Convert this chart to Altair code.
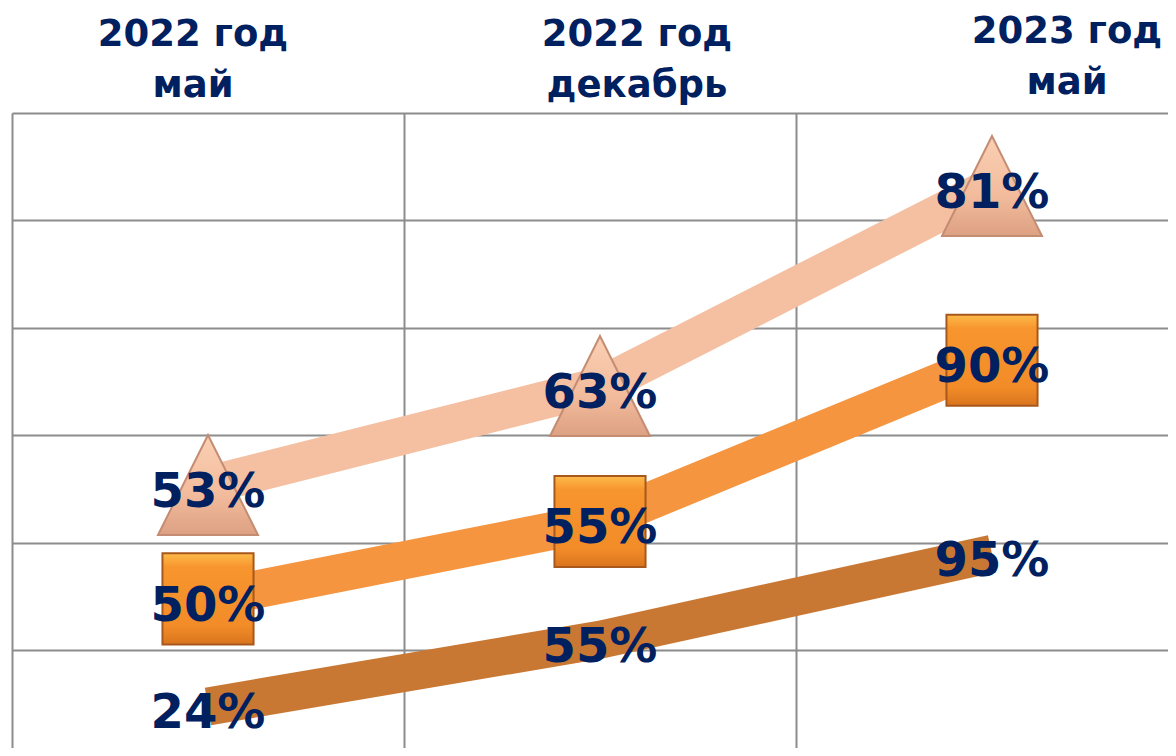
import altair as alt
import pandas as pd

# ---- data ----
periods = ["2022 год май", "2022 год декабрь", "2023 год май"]
header_line1 = ["2022 год", "2022 год", "2023 год"]
header_line2 = ["май", "декабрь", "май"]
series = ["Нижняя", "Средняя", "Верхняя"]          # stacking order bottom -> top
values_bottom = [24, 55, 95]
values_middle = [50, 55, 90]
values_top = [53, 63, 81]
series_colors = ["#C97834", "#F59540", "#F5C0A2"]

rows = []
for s_i, (name, vals) in enumerate(zip(series, [values_bottom, values_middle, values_top])):
    for p_i, (p, v) in enumerate(zip(periods, vals)):
        rows.append({"period": p, "idx": p_i, "series": name, "order": s_i,
                     "value": v, "label": f"{v}%"})
df = pd.DataFrame(rows)
hdr = pd.DataFrame({"idx": [0, 1, 2], "l1": header_line1, "l2": header_line2})

NAVY = "#002060"
GRID = "#8C8C8C"

x_enc = alt.X("idx:Q",
              scale=alt.Scale(domain=[-0.5, 2.449], nice=False, zero=False),
              axis=alt.Axis(values=[-0.5, 0.5, 1.5], labels=False, ticks=False,
                            domain=False, title=None, grid=True,
                            gridColor=GRID, gridWidth=2, gridOpacity=1))
y_enc = alt.Y("cum:Q",
              scale=alt.Scale(domain=[4.65, 300], nice=False, zero=False),
              axis=alt.Axis(values=[50, 100, 150, 200, 250, 300], labels=False,
                            ticks=False, domain=False, title=None, grid=True,
                            gridColor=GRID, gridWidth=2, gridOpacity=1))

base = alt.Chart(df).transform_window(
    cum="sum(value)", groupby=["period"], sort=[alt.SortField("order")],
    frame=[None, 0]
)

lines = base.mark_line(strokeWidth=38, strokeCap="butt", interpolate="linear",
                       strokeJoin="round").encode(
    x=x_enc, y=y_enc,
    color=alt.Color("series:N", scale=alt.Scale(domain=series, range=series_colors),
                    legend=None),
    detail="series:N",
)

tri_grad = alt.Gradient(gradient="linear", x1=0, y1=0, x2=0, y2=1,
                        stops=[alt.GradientStop(color="#FBD0B4", offset=0),
                               alt.GradientStop(color="#F2BB9C", offset=0.6),
                               alt.GradientStop(color="#DDA083", offset=1)])
sq_grad = alt.Gradient(gradient="linear", x1=0, y1=0, x2=0, y2=1,
                       stops=[alt.GradientStop(color="#FDBB4A", offset=0),
                              alt.GradientStop(color="#F7952E", offset=0.15),
                              alt.GradientStop(color="#F28C28", offset=0.8),
                              alt.GradientStop(color="#D9741E", offset=1)])

triangles = base.transform_filter(alt.datum.series == series[2]).mark_point(
    shape="M-1,1L1,1L0,-1Z", size=10000, filled=True, fill=tri_grad,
    stroke="#C48C72", strokeWidth=2, opacity=1
).encode(x="idx:Q", y="cum:Q")

squares = base.transform_filter(alt.datum.series == series[1]).mark_point(
    shape="square", size=8300, filled=True, fill=sq_grad,
    stroke="#A8581C", strokeWidth=2, opacity=1
).encode(x="idx:Q", y="cum:Q")

labels = base.mark_text(font="DejaVu Sans", fontSize=48, fontWeight="bold",
                        color=NAVY, baseline="middle", align="center", dy=8).encode(
    x="idx:Q", y="cum:Q", text="label:N")

hdr_layers = []
for i, (dx, b1) in enumerate([(-15, -67), (37, -67), (75, -70)]):
    h = alt.Chart(hdr).transform_filter(alt.datum.idx == i)
    for txt, off in [("l1:N", 0), ("l2:N", 51)]:
        hdr_layers.append(h.mark_text(font="DejaVu Sans", fontSize=37, fontWeight="bold",
                                      color=NAVY, baseline="alphabetic", align="center",
                                      dx=dx).encode(x="idx:Q", y=alt.value(b1 + off),
                                                    text=txt))

chart = alt.layer(lines, triangles, squares, labels, *hdr_layers).properties(
    width=1156, height=635,
    autosize=alt.AutoSizeParams(type="none"),
    padding={"left": 4, "top": 105, "right": 0, "bottom": 0},
).configure_view(strokeWidth=0).configure(background="white")

chart.save("out.html", embed_options={"renderer": "svg", "actions": False})
